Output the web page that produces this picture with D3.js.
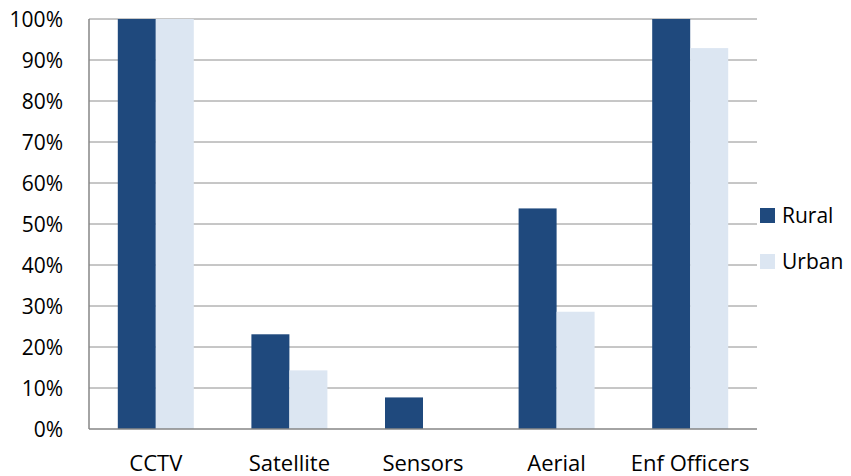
<!DOCTYPE html>
<html><head><meta charset="utf-8">
<script src="https://cdn.jsdelivr.net/npm/d3@7"></script>
<style>body{margin:0;background:#fff}svg{display:block}text{font-family:"Open Sans",sans-serif;fill:#000}</style>
</head><body>
<script>
const categories = ["CCTV", "Satellite", "Sensors", "Aerial", "Enf Officers"];
const seriesNames = ["Rural", "Urban"];
const rural = [100, 23.1, 7.7, 53.8, 100];
const urban = [100, 14.3, 0, 28.6, 92.9];
const yTicks = [0, 10, 20, 30, 40, 50, 60, 70, 80, 90, 100];
const colors = ["#1f497d", "#dce6f2"];

const W = 851, H = 476;
const m = {left: 89, right: 94, top: 19, bottom: 47};
const svg = d3.select("body").append("svg").attr("width", W).attr("height", H);
const x = d3.scaleBand().domain(categories).range([m.left, W - m.right]).paddingInner(0).paddingOuter(0);
const xs = d3.scaleBand().domain(seriesNames).range([0, x.bandwidth()]).paddingInner(0).paddingOuter(0.758);
const y = d3.scaleLinear().domain([0, 100]).range([H - m.bottom, m.top]);

// gridlines
svg.append("g").selectAll("line").data(yTicks.filter(d => d > 0)).join("line")
  .attr("x1", m.left).attr("x2", W - m.right)
  .attr("y1", d => y(d)).attr("y2", d => y(d))
  .attr("stroke", "#8e8e8e").attr("stroke-width", 1);

// bars
const data = [rural, urban];
const g = svg.append("g");
seriesNames.forEach((s, si) => {
  g.selectAll(".b" + si).data(categories).join("rect")
    .attr("x", c => x(c) + xs(s))
    .attr("width", xs.bandwidth())
    .attr("y", (c, i) => y(data[si][i]))
    .attr("height", (c, i) => y(0) - y(data[si][i]))
    .attr("fill", colors[si]);
});

// axes
const yAxis = d3.axisLeft(y).tickValues(yTicks).tickFormat(d => d + "%").tickSize(0).tickPadding(26);
const ya = svg.append("g").attr("transform", `translate(${m.left},0)`).call(yAxis);
ya.select(".domain").remove();
ya.selectAll("text").style("font-size", "21px").attr("dy", "0.36em");
svg.append("line").attr("x1", m.left).attr("x2", m.left).attr("y1", m.top).attr("y2", y(0))
  .attr("stroke", "#868686").attr("stroke-width", 1.5);

const xAxis = d3.axisBottom(x).tickSize(0).tickPadding(26);
const xa = svg.append("g").attr("transform", `translate(0,${y(0)})`).call(xAxis);
xa.select(".domain").remove();
xa.selectAll("text").style("font-size", "22px");
svg.append("line").attr("x1", m.left).attr("x2", W - m.right).attr("y1", y(0)).attr("y2", y(0))
  .attr("stroke", "#868686").attr("stroke-width", 1.5);

// legend
const leg = svg.append("g").selectAll("g").data(seriesNames).join("g")
  .attr("transform", (d, i) => `translate(760,${208 + i * 46})`);
leg.append("rect").attr("width", 15).attr("height", 15).attr("fill", (d, i) => colors[i]);
leg.append("text").attr("x", 22).attr("y", 14.5).style("font-size", "21px").text(d => d);
</script>
</body></html>
